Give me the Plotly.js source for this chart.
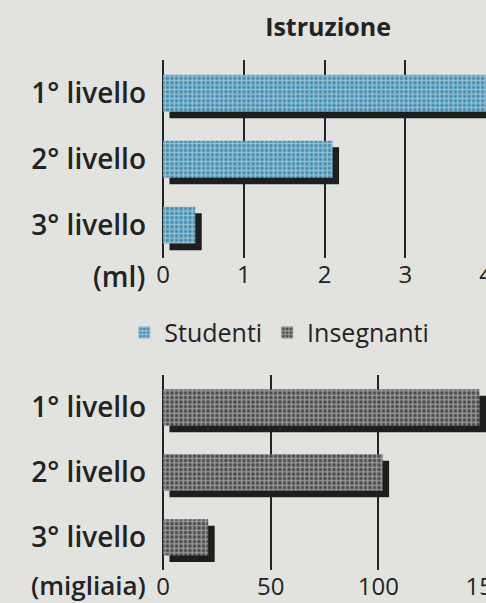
<!DOCTYPE html>
<html>
<head>
<meta charset="utf-8">
<script src="https://cdn.plot.ly/plotly-3.0.1.min.js"></script>
<style>html,body{margin:0;padding:0;background:#e2e2df;}#chart{width:486px;height:603px;}</style>
</head>
<body>
<div id="chart"></div>
<script>
// ---- data ----
const levels = ['1° livello', '2° livello', '3° livello'];
const studenti = [4.5, 2.1, 0.4];        // milioni (ml)
const insegnanti = [147, 102, 21];       // migliaia
const ticksStudenti = [0, 1, 2, 3, 4];
const ticksInsegnanti = [0, 50, 100, 150];
const unitTop = '(ml)';
const unitBottom = '(migliaia)';
const chartTitle = 'Istruzione';

// ---- styles ----
const ink = '#232323';
const font = 'Open Sans, Noto Sans, sans-serif';
const barW = 0.56;
const shadowDown = 0.1;
const blue = '#3f8db0';
const gray = '#474747';

function shadowTrace(vals, shift, xa, ya) {
  return {
    type: 'bar', orientation: 'h', y: levels, x: vals,
    base: vals.map(() => shift),
    width: barW, offset: -barW / 2 + shadowDown,
    marker: {color: '#1e1e1e', line: {width: 0}},
    xaxis: xa, yaxis: ya, showlegend: false, hoverinfo: 'skip'
  };
}
function mainTrace(name, vals, col, xa, ya) {
  return {
    type: 'bar', orientation: 'h', y: levels, x: vals, name: name,
    width: barW, offset: -barW / 2,
    marker: {color: col, line: {width: 0},
      pattern: {shape: '+', fillmode: 'overlay', fgcolor: 'rgba(255,255,255,0.92)', size: 4.5, solidity: 0.55}},
    xaxis: xa, yaxis: ya
  };
}

const data = [
  shadowTrace(studenti, 0.08, 'x', 'y'),
  mainTrace('Studenti', studenti, blue, 'x', 'y'),
  shadowTrace(insegnanti, 3.0, 'x2', 'y2'),
  mainTrace('Insegnanti', insegnanti, gray, 'x2', 'y2')
];

const xCommon = {
  showgrid: true, gridcolor: ink, gridwidth: 2,
  zeroline: true, zerolinecolor: ink, zerolinewidth: 2.5,
  showline: false, ticks: '', ticklabeloverflow: 'allow',
  tickfont: {family: font, size: 24, color: ink},
  fixedrange: true
};
const yCommon = {
  type: 'category', autorange: 'reversed', showgrid: false, showline: false,
  zeroline: false, ticks: '', ticklabelstandoff: 16,
  tickfont: {family: font, size: 28, color: ink, weight: 600}
};

const layout = {
  width: 486, height: 603,
  paper_bgcolor: '#e2e2df', plot_bgcolor: 'rgba(0,0,0,0)',
  margin: {l: 163, r: 0, t: 0, b: 0, autoexpand: false},
  barmode: 'overlay',
  title: {text: chartTitle, x: 0.675, xanchor: 'center', y: 0.955, yanchor: 'middle',
          font: {family: font, size: 25, color: ink, weight: 700}},
  xaxis: Object.assign({}, xCommon, {domain: [0, 1], anchor: 'y', range: [0, 4],
          tickvals: ticksStudenti, ticktext: ticksStudenti.map(String)}),
  yaxis: Object.assign({}, yCommon, {domain: [0.572, 0.9], anchor: 'x'}),
  xaxis2: Object.assign({}, xCommon, {domain: [0, 1], anchor: 'y2', range: [0, 150],
          tickvals: ticksInsegnanti, ticktext: ticksInsegnanti.map(String)}),
  yaxis2: Object.assign({}, yCommon, {domain: [0.055, 0.378], anchor: 'x2'}),
  legend: {orientation: 'h', x: 0.36, xanchor: 'center', y: 0.448, yanchor: 'middle',
           bgcolor: 'rgba(0,0,0,0)', font: {family: font, size: 25, color: ink},
           itemwidth: 30, traceorder: 'normal'},
  annotations: [
    {text: unitTop, xref: 'paper', yref: 'paper', x: 0, y: 0.572, xanchor: 'right', yanchor: 'middle',
     xshift: -16, yshift: -18, showarrow: false, font: {family: font, size: 28, color: ink, weight: 600}},
    {text: unitBottom, xref: 'paper', yref: 'paper', x: 0, y: 0.055, xanchor: 'right', yanchor: 'middle',
     xshift: -15, yshift: -15, showarrow: false, font: {family: font, size: 26, color: ink, weight: 600}}
  ]
};

Plotly.newPlot('chart', data, layout, {displayModeBar: false, staticPlot: true});
</script>
</body>
</html>
